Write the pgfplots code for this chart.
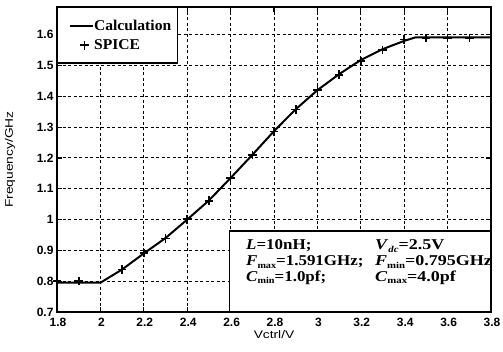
\documentclass[border=0pt]{standalone}
\usepackage{fontspec}
\setmainfont{Liberation Sans}
\newfontfamily\tnr[FakeStretch=1.04]{Liberation Serif}
\newfontfamily\tnrw[FakeStretch=1.13]{Liberation Serif}
\newfontfamily\tnrx[FakeStretch=1.2]{Liberation Serif}
\newcommand{\sub}[1]{\raisebox{-0.18em}{\fontsize{9}{9}\selectfont #1}}
\newcommand{\cx}{\tnrx\bfseries}
\usepackage{pgfplots}
\pgfplotsset{compat=1.18}
\begin{document}
\begin{tikzpicture}
\useasboundingbox (-57pt,-40pt) rectangle (446pt,312pt);
\begin{axis}[
  scale only axis,
  width=434pt, height=305pt,
  xmin=1.8, xmax=3.8, ymin=0.7, ymax=1.69,
  xtick={1.8,2,2.2,2.4,2.6,2.8,3,3.2,3.4,3.6,3.8},
  xticklabels={1.8,2,2.2,2.4,2.6,2.8,3,3.2,3.4,3.6,3.8},
  ytick={0.7,0.8,0.9,1,1.1,1.2,1.3,1.4,1.5,1.6},
  yticklabels={0.7,0.8,0.9,1,1.1,1.2,1.3,1.4,1.5,1.6},
  tick align=inside,
  major tick length=5pt,
  tick style={line width=1.2pt, black},
  axis line style={line width=1.8pt},
  grid=major,
  major grid style={dash pattern=on 3pt off 2.5pt, line width=1pt, black},
  ticklabel style={font=\fontsize{12}{14}\selectfont\bfseries},
  xticklabel style={yshift=-2.5pt, xshift=1pt},
  every axis y label/.style={at={(rel axis cs:0,0.5)}, xshift=-47pt, rotate=90, anchor=center},
  every axis x label/.style={at={(rel axis cs:0.5,0)}, yshift=-23pt, anchor=center},
  label style={font=\fontsize{11}{13}\selectfont\addfontfeature{FakeStretch=1.25}},
  xlabel={Vctrl/V},
  ylabel={Frequency/GHz},
  legend style={at={(rel axis cs:0,1)}, anchor=north west, draw=black, line width=1.2pt, fill=white,
    font=\tnr\bfseries\fontsize{15}{17}\selectfont, inner xsep=6pt, inner ysep=12pt,
    row sep=8pt, nodes={inner sep=0pt},
    /tikz/every odd column/.append style={column sep=0.5pt}},
  legend cell align=left,
]
\addplot[black, line width=2pt, no marks,
  legend image code/.code={\path (0pt,0pt); \draw[black, line width=2pt] (5pt,0pt) -- (28pt,0pt);}] coordinates {
(1.8,0.795)(2.0,0.795)(2.1,0.838)(2.2,0.890)(2.3,0.940)(2.4,1.000)(2.5,1.062)(2.6,1.135)
(2.7,1.210)(2.8,1.287)(2.9,1.358)(3.0,1.420)(3.1,1.472)(3.2,1.518)(3.3,1.553)(3.4,1.580)
(3.45,1.591)(3.8,1.591)};
\addlegendentry{Calculation}
\addplot[black, only marks, mark=+, mark size=4.3pt, mark options={line width=1.6pt},
  legend image code/.code={\path (0pt,0pt) (28pt,0pt); \draw[black, line width=1.6pt] (15.7pt,0pt) -- (24.3pt,0pt) (20pt,-4.3pt) -- (20pt,4.3pt);}] coordinates {
(1.8,0.800)(1.9,0.800)(2.1,0.838)(2.2,0.891)(2.3,0.939)(2.4,1.001)(2.5,1.061)(2.6,1.135)
(2.7,1.210)(2.8,1.286)(2.9,1.357)(3.0,1.420)(3.1,1.470)(3.2,1.515)(3.3,1.551)(3.4,1.584)
(3.5,1.589)(3.6,1.590)(3.7,1.590)};
\addlegendentry{SPICE}
\draw[line width=1.2pt, fill=white] (rel axis cs:0.398,0) rectangle (rel axis cs:1,0.2656);
\node[anchor=base west, inner sep=0pt, font=\tnrw\bfseries\fontsize{15}{15.7}\selectfont]
  at (rel axis cs:0.4355,0.204)
  {\begin{tabular}[t]{@{}p{129pt}@{}l@{}}
  \textit{L}=10nH; & {\cx\textit{V}\sub{\textit{dc}}=2.5V}\\
  \textit{F}\sub{max}=1.591GHz; & {\cx\textit{F}\sub{min}=0.795GHz}\\
  \textit{C}\sub{min}=1.0pf; & {\cx\textit{C}\sub{max}=4.0pf}
  \end{tabular}};
\end{axis}
\end{tikzpicture}
\end{document}
